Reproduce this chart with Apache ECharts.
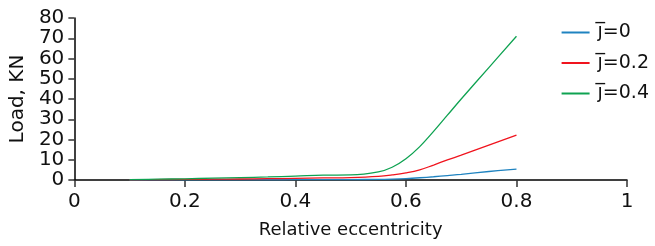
<!DOCTYPE html>
<html>
<head>
<meta charset="utf-8">
<script src="https://cdn.jsdelivr.net/npm/echarts@6/dist/echarts.min.js"></script>
<style>
  html, body { margin: 0; padding: 0; background: #fff; }
  #chart { width: 655px; height: 246px; }
</style>
</head>
<body>
<div id="chart"></div>
<script>
var ecc = [0.1, 0.15, 0.2, 0.25, 0.3, 0.35, 0.4, 0.45, 0.5, 0.55, 0.575, 0.6, 0.625, 0.65, 0.675, 0.7, 0.75, 0.8];
var load0 = [0, 0.02, 0.05, 0.08, 0.1, 0.12, 0.15, 0.2, 0.22, 0.3, 0.45, 0.7, 1.1, 1.6, 2.2, 2.8, 4.2, 5.4];
var load2 = [0.1, 0.2, 0.3, 0.4, 0.5, 0.65, 0.8, 1.0, 1.2, 1.8, 2.5, 3.5, 5.0, 7.4, 9.9, 12.3, 17.2, 22.2];
var load4 = [0.2, 0.4, 0.6, 0.9, 1.2, 1.5, 1.9, 2.4, 2.5, 4.0, 6.3, 10.5, 16.5, 24, 32, 40, 55.5, 71];
var names = ["j\u0305=0", "j\u0305=0.2", "j\u0305=0.4"];
var colors = ["#1f83c0", "#f0141e", "#0ea251"];

function pairs(ys) {
  return ecc.map(function (x, i) { return [x, ys[i]]; });
}

var chart = echarts.init(document.getElementById("chart"));
var font = "DejaVu Sans";
var option = {
  animation: false,
  color: colors,
  grid: {
    left: 73,
    right: 28,
    top: 18,
    bottom: 66,
  },
  legend: {
    orient: "vertical",
    right: 1,
    top: 18,
    itemWidth: 28,
    itemHeight: 2,
    itemGap: 11.5,
    icon: "rect",
    textStyle: { fontFamily: font, fontSize: 19, color: "#111", padding: [0, 0, 0, 3] },
    data: names,
  },
  xAxis: {
    type: "value",
    min: 0,
    max: 1,
    interval: 0.2,
    name: "Relative eccentricity",
    nameLocation: "middle",
    nameGap: 41,
    nameTextStyle: { fontFamily: font, fontSize: 18, color: "#111" },
    axisLine: { lineStyle: { color: "#000", width: 1.5 } },
    axisTick: { length: 7, lineStyle: { color: "#333", width: 1.5 } },
    axisLabel: { fontFamily: font, fontSize: 20, color: "#111", margin: 12 },
    splitLine: { show: false },
  },
  yAxis: {
    type: "value",
    min: 0,
    max: 80,
    interval: 10,
    name: "Load, KN",
    nameLocation: "middle",
    nameGap: 37,
    nameTextStyle: { fontFamily: font, fontSize: 20, color: "#111" },
    axisLine: { show: true, lineStyle: { color: "#000", width: 1.5 } },
    axisTick: { show: true, length: 6, lineStyle: { color: "#333", width: 1.5 } },
    axisLabel: {
      fontFamily: font, fontSize: 20, color: "#111", margin: 10,
      showMinLabel: true, showMaxLabel: true, hideOverlap: false, interval: 0,
    },
    splitLine: { show: false },
  },
  series: [
    { name: names[0], type: "line", data: pairs(load0), smooth: 0.4, showSymbol: false, lineStyle: { width: 1.3 } },
    { name: names[1], type: "line", data: pairs(load2), smooth: 0.4, showSymbol: false, lineStyle: { width: 1.3 } },
    { name: names[2], type: "line", data: pairs(load4), smooth: 0.4, showSymbol: false, lineStyle: { width: 1.3 } },
  ],
};
chart.setOption(option);
</script>
</body>
</html>
